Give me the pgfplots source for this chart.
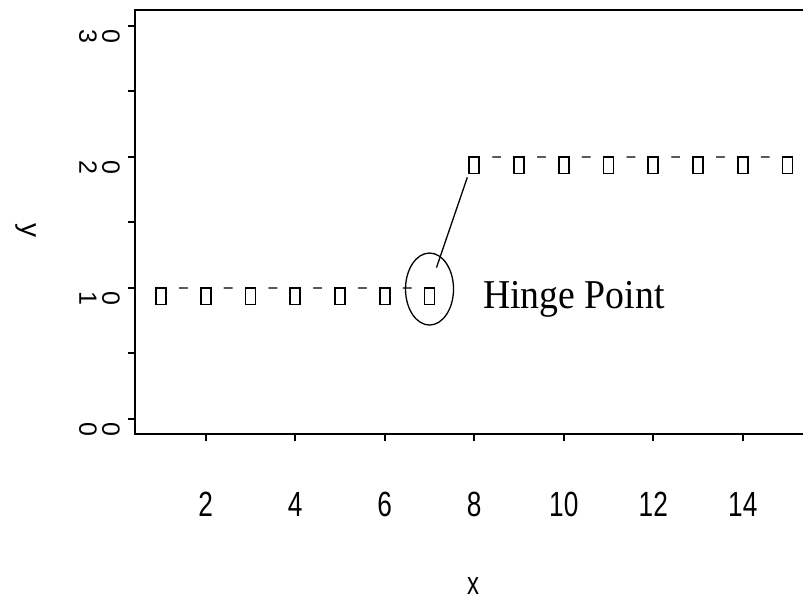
\documentclass[border=0pt]{standalone}
\usepackage{pgfplots}
\pgfplotsset{compat=1.18}
\usepackage{pgfplotstable}
\usepackage{graphicx}
\usepackage{fontspec}
\setmainfont{Liberation Serif}
\newfontfamily\ticksf[FakeStretch=0.75]{Liberation Sans}
\newfontfamily\ylabsf{Liberation Sans}
\newfontfamily\annotrm[FakeStretch=0.92]{Liberation Serif}

% the step series: flat at 1 up to the hinge, then flat at 2
\pgfplotstableread{
x y
1 1
2 1
3 1
4 1
5 1
6 1
7 1
8 2
9 2
10 2
11 2
12 2
13 2
14 2
15 2
}\hingedata

% white blot that opens a gap in the connecting line around each point
\pgfdeclareplotmark{gapblot}{%
  \pgfpathellipse{\pgfpointorigin}{\pgfpoint{18bp}{0bp}}{\pgfpoint{0bp}{22bp}}%
  \pgfusepathqfill}
% narrow "0"-like plotting character, hanging just below the point
\pgfdeclareplotmark{charo}{%
  \pgfsetcornersarced{\pgfpoint{4bp}{4bp}}%
  \pgfpathrectangle{\pgfpoint{-5bp}{-16.5bp}}{\pgfpoint{10bp}{16.5bp}}%
  \pgfusepathqstroke}

\begin{document}
\begin{tikzpicture}
\useasboundingbox (0,0) rectangle (803bp,601bp);
\clip (0,0) rectangle (803bp,601bp);
\begin{axis}[
  at={(135bp,167bp)}, anchor=south west,
  scale only axis,
  width=697.3bp, height=424bp,
  xmin=0.419, xmax=16,
  ymin=-0.1145, ymax=3.122,
  axis line style={line width=2bp},
  tick pos=left,
  tick align=outside,
  major tick length=7bp,
  tick style={line width=2bp, black},
  xtick={2,4,6,8,10,12,14},
  xticklabels={2,4,6,8,10,12,14},
  xticklabel style={font=\ticksf\fontsize{35bp}{40bp}\selectfont, anchor=base, yshift=-75bp},
  ytick={0,0.5,1,1.5,2,2.5,3},
  % labels turned a quarter clockwise: first line ends up on the right
  yticklabels={0\\0,,0\\1,,0\\2,,0\\3},
  yticklabel style={font=\ylabsf\fontsize{25bp}{23bp}\selectfont, align=center,
    xshift=-8bp, yshift=-10bp, rotate=-90, anchor=north, inner sep=0pt},
  xlabel={x},
  xlabel style={font=\ticksf\fontsize{32bp}{36bp}\selectfont,
    at={(axis description cs:0.485,-0.3585)}, anchor=center, inner sep=0pt},
  ylabel={\ylabsf\fontsize{28bp}{32bp}\selectfont\rotatebox{-90}{y}},
  ylabel style={at={(axis description cs:-0.156,0.479)}, anchor=center, rotate=-90},
]
% connecting line
\addplot[black, line width=1.3bp, mark=none] table[x=x, y=y] {\hingedata};
% gaps around the points
\addplot[only marks, mark=gapblot, white, mark options={fill=white, draw=none}] table[x=x, y=y] {\hingedata};
% plotting characters
\addplot[only marks, mark=charo, black, line width=1.8bp] table[x=x, y=y] {\hingedata};
% hinge annotation
\draw[black, line width=1.3bp] (axis cs:7,0.992) ellipse [x radius=24bp, y radius=36bp];
\node[anchor=base west, inner sep=0pt, font=\annotrm\fontsize{41bp}{46bp}\selectfont]
  at (axis cs:8.196,0.845) {Hinge Point};
\end{axis}
\end{tikzpicture}
\end{document}
